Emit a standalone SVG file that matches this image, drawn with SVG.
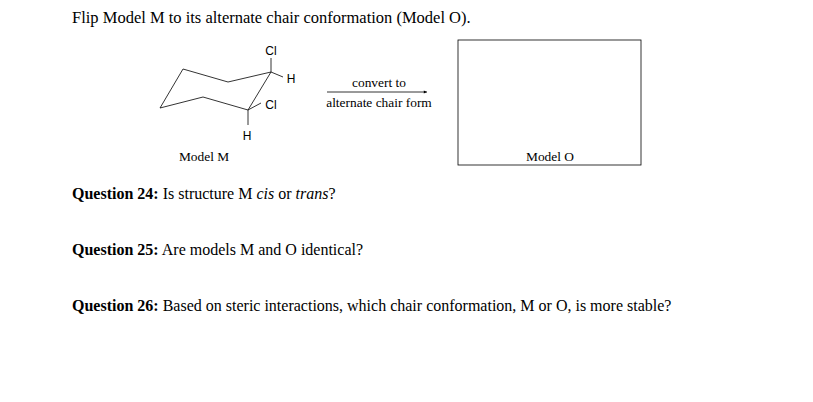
<svg xmlns="http://www.w3.org/2000/svg" width="813" height="402" viewBox="0 0 813 402">
<defs><marker id="ah" viewBox="0 0 10 10" refX="10" refY="5" markerWidth="6" markerHeight="4" orient="auto"><path d="M0,0 L10,5 L0,10 z" fill="#000"/></marker></defs>
<style>.t{font-family:"Liberation Serif",serif;font-size:16px;fill:#000}.s{font-family:"Liberation Serif",serif;font-size:13.4px;fill:#000}.a{font-family:"Liberation Sans",sans-serif;font-size:12px;fill:#000}.l{stroke:#000;stroke-width:0.8;fill:none}</style>
<rect width="813" height="402" fill="#fff"/>
<text class="t" x="72" y="23" style="font-size:16.5px">Flip Model M to its alternate chair conformation (Model O).</text>
<g id="modelM">
<path class="l" d="M183,69 L228,82 L271,72 L248,110 L203,97 L160,108 Z"/>
<path class="l" d="M271,72 V58 M271,72 L283,77 M248,110 L261,103 M248,110 V125"/>
<text class="a" x="271" y="55" text-anchor="middle">Cl</text>
<text class="a" x="291" y="83" text-anchor="middle">H</text>
<text class="a" x="271" y="109" text-anchor="middle">Cl</text>
<text class="a" x="247" y="140" text-anchor="middle">H</text>
<text class="s" x="204" y="161" text-anchor="middle">Model M</text>
</g>
<g id="connectors">
<line class="l" x1="327" y1="92" x2="427" y2="92" marker-end="url(#ah)"/>
<text class="s" x="379" y="87" text-anchor="middle">convert to</text>
<text class="s" x="379" y="107" text-anchor="middle">alternate chair form</text>
</g>
<g id="modelO">
<rect class="l" x="458" y="40" width="183" height="125"/>
<text class="s" x="550" y="161" text-anchor="middle">Model O</text>
</g>
<text class="t" x="72" y="199"><tspan font-weight="bold">Question 24:</tspan> Is structure M <tspan font-style="italic">cis</tspan> or <tspan font-style="italic">trans</tspan>?</text>
<text class="t" x="72" y="255"><tspan font-weight="bold">Question 25:</tspan> Are models M and O identical?</text>
<text class="t" x="72" y="311"><tspan font-weight="bold">Question 26:</tspan> Based on steric interactions, which chair conformation, M or O, is more stable?</text>
</svg>
